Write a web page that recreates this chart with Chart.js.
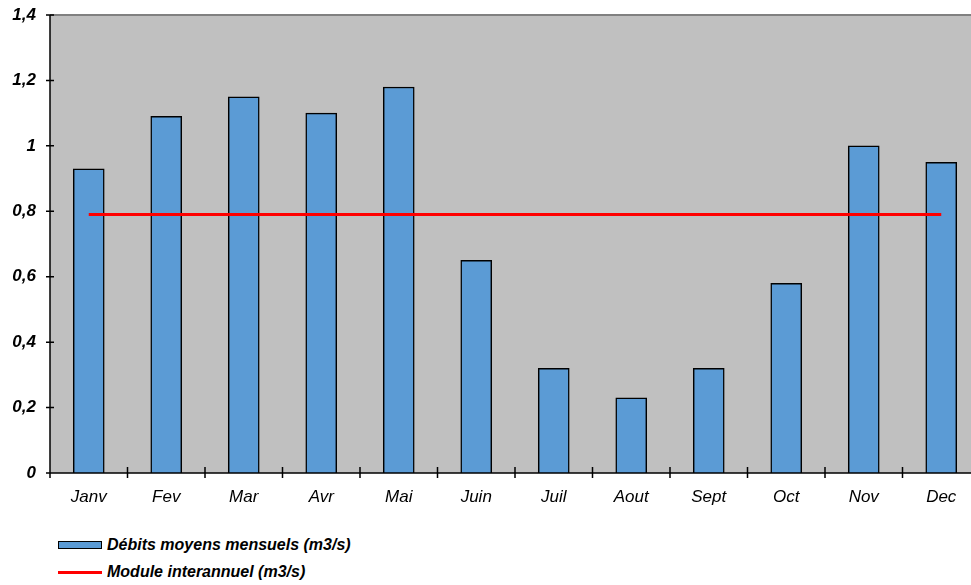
<!DOCTYPE html>
<html>
<head>
<meta charset="utf-8">
<script src="https://cdn.jsdelivr.net/npm/chart.js@4/dist/chart.umd.min.js"></script>
<style>
  html, body { margin: 0; padding: 0; background: #fff; width: 971px; height: 585px; overflow: hidden; }
  #wrap { position: absolute; left: 0; top: 0; width: 980px; height: 520px; }
  .leg { position: absolute; left: 58px; font-family: "Liberation Sans", Arial, sans-serif; font-weight: bold; font-style: italic; font-size: 16px; color: #000; }
  .leg .sw { position: absolute; left: 0; }
  .leg .tx { position: absolute; left: 49px; white-space: nowrap; line-height: 18px; }
</style>
</head>
<body>
<div id="wrap"><canvas id="c" width="980" height="520"></canvas></div>
<div class="leg" style="top:536px;">
  <div class="sw" style="top:5px;width:42px;height:6px;background:#5B9BD5;border:1px solid #000;"></div>
  <div class="tx" id="l1" style="top:0px;"></div>
</div>
<div class="leg" style="top:563px;">
  <div class="sw" style="top:8px;width:44px;height:3px;background:#FF0000;"></div>
  <div class="tx" id="l2" style="top:0px;"></div>
</div>
<script>
const categories = ["Janv","Fev","Mar","Avr","Mai","Juin","Juil","Aout","Sept","Oct","Nov","Dec"];
const debitsMensuels = [0.93, 1.09, 1.15, 1.10, 1.18, 0.65, 0.32, 0.23, 0.32, 0.58, 1.00, 0.95];
const moduleInterannuel = [0.79, 0.79, 0.79, 0.79, 0.79, 0.79, 0.79, 0.79, 0.79, 0.79, 0.79, 0.79];
const seriesNames = ["Débits moyens mensuels (m3/s)", "Module interannuel (m3/s)"];

document.getElementById('l1').textContent = seriesNames[0];
document.getElementById('l2').textContent = seriesNames[1];

const FONT = '"Liberation Sans", Arial, sans-serif';

const bgPlugin = {
  id: 'bg',
  beforeDraw(chart) {
    const {ctx, chartArea: a} = chart;
    ctx.save();
    ctx.fillStyle = '#C0C0C0';
    ctx.fillRect(a.left, a.top, a.right - a.left, a.bottom - a.top);
    ctx.strokeStyle = '#808080';
    ctx.lineWidth = 2;
    ctx.beginPath();
    ctx.moveTo(a.left, a.top);
    ctx.lineTo(a.right, a.top);
    ctx.stroke();
    ctx.restore();
  },
  afterDatasetsDraw(chart) {
    const {ctx, chartArea: a, scales} = chart;
    ctx.save();
    ctx.strokeStyle = '#000';
    ctx.lineWidth = 1.5;
    ctx.beginPath();
    ctx.moveTo(a.left, a.top);
    ctx.lineTo(a.left, a.bottom);
    ctx.moveTo(a.left, a.bottom);
    ctx.lineTo(a.right, a.bottom);
    scales.y.ticks.forEach((t, i) => {
      const y = scales.y.getPixelForTick(i);
      ctx.moveTo(a.left - 4, y);
      ctx.lineTo(a.left + 4, y);
    });
    const n = categories.length;
    for (let i = 0; i <= n; i++) {
      const x = a.left + (a.right - a.left) * i / n;
      ctx.moveTo(x, a.bottom - 6);
      ctx.lineTo(x, a.bottom + 5);
    }
    ctx.stroke();
    ctx.restore();
  }
};

new Chart(document.getElementById('c'), {
  data: {
    labels: categories,
    datasets: [
      {
        type: 'line',
        label: seriesNames[1],
        data: moduleInterannuel,
        borderColor: '#FF0000',
        borderWidth: 3,
        pointRadius: 0,
        fill: false,
        order: 0
      },
      {
        type: 'bar',
        label: seriesNames[0],
        data: debitsMensuels,
        backgroundColor: '#5B9BD5',
        borderColor: '#000000',
        borderWidth: 1.5,
        barThickness: 31,
        order: 1
      }
    ]
  },
  options: {
    responsive: false,
    animation: false,
    layout: { padding: { top: 15, right: 0, left: 0, bottom: 0 } },
    plugins: { legend: { display: false }, tooltip: { enabled: false } },
    scales: {
      x: {
        offset: true,
        grid: { display: false, drawTicks: false },
        border: { display: false },
        ticks: { color: '#000', padding: 14, font: { family: FONT, size: 17, style: 'italic' } },
        afterFit(s) { s.height = 47; s.paddingLeft = 0; s.paddingRight = 0; }
      },
      y: {
        min: 0, max: 1.4,
        grid: { display: false, drawTicks: false },
        border: { display: false },
        ticks: {
          stepSize: 0.2, color: '#000', padding: 14,
          font: { family: FONT, size: 17, style: 'italic', weight: 'bold' },
          callback(v) { return (Math.round(v * 10) / 10).toString().replace('.', ','); }
        },
        afterFit(s) { s.width = 50; s.paddingTop = 0; s.paddingBottom = 0; }
      }
    }
  },
  plugins: [bgPlugin]
});
</script>
</body>
</html>
